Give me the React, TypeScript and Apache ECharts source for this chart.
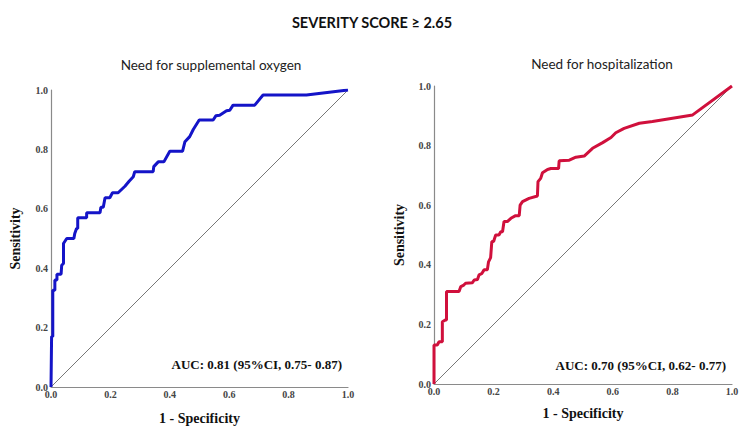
import React, { useEffect, useRef } from "react";
import * as echarts from "echarts";

// Need for supplemental oxygen: [1 - specificity, sensitivity]
const oxygenFpr = [0, 0.002, 0.006, 0.006, 0.013, 0.013, 0.02, 0.02, 0.034, 0.036, 0.042, 0.042, 0.053, 0.077, 0.08, 0.086, 0.09, 0.09, 0.12, 0.12, 0.165, 0.168, 0.176, 0.182, 0.198, 0.207, 0.226, 0.249, 0.263, 0.277, 0.282, 0.344, 0.346, 0.361, 0.38, 0.4, 0.443, 0.451, 0.467, 0.479, 0.499, 0.546, 0.555, 0.568, 0.591, 0.602, 0.613, 0.686, 0.714, 0.86, 1.0];
const oxygenTpr = [0, 0.17, 0.17, 0.326, 0.326, 0.36, 0.36, 0.38, 0.38, 0.41, 0.416, 0.483, 0.5, 0.5, 0.517, 0.534, 0.534, 0.57, 0.57, 0.587, 0.587, 0.605, 0.605, 0.637, 0.637, 0.654, 0.654, 0.676, 0.693, 0.708, 0.725, 0.725, 0.742, 0.758, 0.758, 0.794, 0.794, 0.826, 0.843, 0.867, 0.899, 0.899, 0.913, 0.915, 0.93, 0.932, 0.949, 0.949, 0.983, 0.983, 1.0];

// Need for hospitalization: [1 - specificity, sensitivity]
const hospFpr = [0, 0, 0.011, 0.017, 0.028, 0.028, 0.039, 0.042, 0.042, 0.084, 0.09, 0.1, 0.106, 0.129, 0.135, 0.146, 0.151, 0.16, 0.168, 0.179, 0.183, 0.19, 0.194, 0.2, 0.207, 0.218, 0.224, 0.23, 0.235, 0.246, 0.258, 0.274, 0.286, 0.289, 0.297, 0.319, 0.347, 0.349, 0.358, 0.364, 0.381, 0.392, 0.418, 0.42, 0.454, 0.476, 0.504, 0.532, 0.566, 0.594, 0.61, 0.638, 0.689, 0.733, 0.868, 1.0];
const hospTpr = [0, 0.131, 0.131, 0.142, 0.142, 0.209, 0.215, 0.215, 0.31, 0.31, 0.327, 0.332, 0.338, 0.34, 0.349, 0.351, 0.366, 0.37, 0.383, 0.383, 0.41, 0.424, 0.478, 0.478, 0.5, 0.5, 0.511, 0.511, 0.545, 0.545, 0.556, 0.565, 0.565, 0.6, 0.612, 0.623, 0.631, 0.679, 0.69, 0.709, 0.72, 0.723, 0.723, 0.749, 0.751, 0.761, 0.765, 0.791, 0.81, 0.827, 0.843, 0.858, 0.875, 0.881, 0.903, 1.0];

const referenceLine = [[0, 0], [1, 1]];

const mainTitle = "SEVERITY SCORE \u2265 2.65";
const subtitles = ["Need for supplemental oxygen", "Need for hospitalization"];
const aucLabels = ["AUC: 0.81 (95%CI, 0.75- 0.87)", "AUC: 0.70 (95%CI, 0.62- 0.77)"];

const SERIF = "'Liberation Serif', 'DejaVu Serif', serif";
const SANS = "Lato, 'Open Sans', 'Liberation Sans', sans-serif";

function zip(a: number[], b: number[]) {
  return a.map((v, i) => [v, b[i]]);
}

export default function App() {
  const ref = useRef<HTMLDivElement>(null);
  useEffect(() => {
    document.body.style.margin = "0";
    if (!ref.current) return;
    const chart = echarts.init(ref.current, null, { renderer: "svg" });
    const labelBase = {
      fontFamily: SERIF,
      fontWeight: "bold" as const,
      fontSize: 10,
      color: "#444",
      formatter: (v: number) => v.toFixed(1),
    };
    const axisLine = { show: true, lineStyle: { color: "#8a8a8a", width: 1.2 } };
    const nameStyle = { fontFamily: SERIF, fontWeight: "bold" as const, fontSize: 14, color: "#111" };
    const mkX = (idx: number, gap: number) => ({
      type: "value" as const,
      gridIndex: idx,
      min: 0,
      max: 1,
      interval: 0.2,
      axisLine,
      axisTick: { show: false },
      splitLine: { show: false },
      axisLabel: { ...labelBase, margin: 2 },
      name: "1 - Specificity",
      nameLocation: "middle" as const,
      nameGap: gap,
      nameTextStyle: nameStyle,
    });
    const mkY = (idx: number, gap: number) => ({
      type: "value" as const,
      gridIndex: idx,
      min: 0,
      max: 1,
      interval: 0.2,
      axisLine,
      axisTick: { show: false },
      splitLine: { show: false },
      axisLabel: { ...labelBase, margin: 3 },
      name: "Sensitivity",
      nameLocation: "middle" as const,
      nameGap: gap,
      nameTextStyle: nameStyle,
    });
    chart.setOption({
      animation: false,
      backgroundColor: "#ffffff",
      grid: [
        { left: 51, top: 90, width: 297, height: 297 },
        { left: 434, top: 86, width: 298, height: 298 },
      ],
      xAxis: [mkX(0, 24), mkX(1, 22)],
      yAxis: [mkY(0, 29), mkY(1, 28)],
      graphic: [
        {
          type: "text",
          x: 372,
          y: 22,
          style: { text: mainTitle, font: `bold 14.5px ${SANS}`, fill: "#111", align: "center", verticalAlign: "middle" },
        },
        {
          type: "text",
          x: 211,
          y: 65,
          style: { text: subtitles[0], font: `13.5px ${SANS}`, fill: "#222", align: "center", verticalAlign: "middle" },
        },
        {
          type: "text",
          x: 602,
          y: 64,
          style: { text: subtitles[1], font: `13.5px ${SANS}`, fill: "#222", align: "center", verticalAlign: "middle" },
        },
        {
          type: "text",
          x: 342,
          y: 364,
          style: { text: aucLabels[0], font: `bold 13px ${SERIF}`, fill: "#111", align: "right", verticalAlign: "middle" },
        },
        {
          type: "text",
          x: 726,
          y: 365,
          style: { text: aucLabels[1], font: `bold 13px ${SERIF}`, fill: "#111", align: "right", verticalAlign: "middle" },
        },
      ],
      series: [
        {
          type: "line",
          xAxisIndex: 0,
          yAxisIndex: 0,
          data: referenceLine,
          symbol: "none",
          silent: true,
          lineStyle: { color: "#555", width: 0.8 },
        },
        {
          type: "line",
          xAxisIndex: 0,
          yAxisIndex: 0,
          data: zip(oxygenFpr, oxygenTpr),
          symbol: "none",
          lineStyle: { color: "#1414c8", width: 3 },
        },
        {
          type: "line",
          xAxisIndex: 1,
          yAxisIndex: 1,
          data: referenceLine,
          symbol: "none",
          silent: true,
          lineStyle: { color: "#555", width: 0.8 },
        },
        {
          type: "line",
          xAxisIndex: 1,
          yAxisIndex: 1,
          data: zip(hospFpr, hospTpr),
          symbol: "none",
          lineStyle: { color: "#d0103c", width: 3 },
        },
      ],
    });
    return () => chart.dispose();
  }, []);
  return <div ref={ref} style={{ width: 751, height: 434 }} />;
}
